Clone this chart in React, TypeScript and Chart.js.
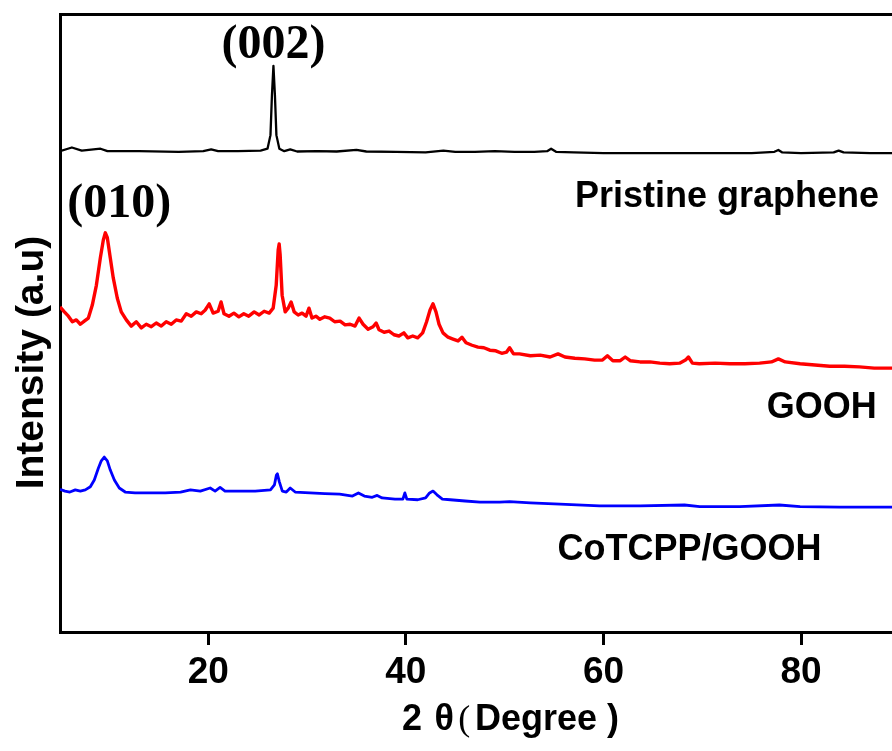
import React, { useEffect, useRef } from "react";
import { Chart, registerables } from "chart.js";

Chart.register(...registerables);

// ---- data (2θ in degrees, intensity in a.u., curves vertically offset) ----
const pristineX = [5.0, 6.2, 7.2, 9.1, 9.8, 13, 17, 19.5, 20.3, 21, 23, 25.3, 26.0, 26.3, 26.45, 26.6, 26.75, 26.9, 27.2, 27.7, 28.3, 29, 31, 33, 35, 36, 39, 42, 43.8, 45, 47, 49, 51, 53, 54.3, 54.7, 55.2, 57, 60, 63, 66, 69, 72, 75, 77.3, 77.7, 78.1, 80, 83.3, 83.8, 84.3, 87, 89.2];
const pristineY = [77.8, 78.4, 77.9, 78.2, 77.8, 77.8, 77.7, 77.8, 78.1, 77.8, 77.8, 77.9, 78.2, 80.4, 86.9, 91.6, 86.9, 80.4, 78.2, 77.8, 78.1, 77.75, 77.8, 77.75, 78.0, 77.75, 77.7, 77.6, 77.9, 77.7, 77.7, 77.8, 77.7, 77.7, 77.8, 78.2, 77.7, 77.6, 77.5, 77.5, 77.5, 77.5, 77.5, 77.5, 77.7, 78.0, 77.6, 77.5, 77.6, 77.9, 77.6, 77.5, 77.5];

const goohX = [5.0, 5.44, 5.85, 6.25, 6.65, 7.06, 7.46, 7.87, 8.27, 8.68, 9.08, 9.38, 9.59, 9.79, 10.09, 10.39, 10.8, 11.2, 11.71, 12.21, 12.72, 13.23, 13.73, 14.24, 14.74, 15.25, 15.75, 16.26, 16.76, 17.27, 17.78, 18.28, 18.79, 19.29, 19.7, 20.1, 20.5, 21.0, 21.3, 21.6, 22.1, 22.6, 23.1, 23.6, 24.1, 24.65, 25.16, 25.66, 26.17, 26.57, 26.88, 27.08, 27.18, 27.28, 27.48, 27.79, 28.09, 28.39, 28.7, 29.1, 29.5, 29.9, 30.2, 30.5, 30.9, 31.3, 31.8, 32.3, 32.8, 33.35, 33.85, 34.36, 34.86, 35.27, 35.67, 36.18, 36.68, 36.99, 37.29, 37.8, 38.3, 38.8, 39.3, 39.8, 40.2, 40.7, 41.2, 41.7, 42.1, 42.45, 42.75, 43.05, 43.36, 43.76, 44.27, 44.77, 45.28, 45.68, 46.09, 46.7, 47.3, 47.9, 48.5, 49.1, 49.7, 50.2, 50.5, 50.9, 51.5, 52.6, 53.6, 54.6, 55.4, 56.1, 57.1, 58.1, 59.1, 59.9, 60.4, 60.95, 61.7, 62.2, 62.7, 63.7, 64.7, 65.7, 66.7, 67.7, 68.3, 68.6, 69.0, 69.7, 71.3, 72.8, 74.3, 75.8, 77.0, 77.7, 78.4, 79.9, 81.4, 82.9, 84.4, 85.9, 87.4, 89.2];
const goohY = [52.6, 51.8, 51.1, 50.2, 50.5, 49.8, 50.3, 50.8, 52.9, 56.1, 60.5, 63.4, 64.6, 63.8, 60.5, 57.3, 54.0, 51.8, 50.5, 49.5, 50.2, 49.2, 49.8, 49.4, 50.0, 49.5, 50.2, 49.8, 50.5, 50.3, 51.5, 51.1, 51.8, 51.5, 52.1, 53.1, 51.6, 51.9, 53.4, 51.5, 51.1, 51.6, 51.0, 51.5, 51.1, 51.8, 51.3, 51.9, 51.6, 52.4, 56.1, 61.8, 62.8, 61.0, 54.5, 51.8, 52.4, 53.4, 51.8, 51.3, 51.6, 51.1, 52.4, 50.8, 51.1, 50.6, 51.0, 50.8, 50.2, 50.3, 49.7, 49.8, 49.5, 50.8, 49.8, 49.0, 49.4, 50.0, 48.9, 48.5, 48.7, 48.1, 47.9, 48.4, 47.6, 47.9, 47.6, 48.4, 50.2, 52.1, 53.1, 51.8, 49.8, 48.4, 47.7, 47.4, 47.1, 47.7, 46.8, 46.4, 46.1, 46.0, 45.6, 45.5, 45.1, 45.3, 46.0, 45.0, 45.0, 44.7, 44.8, 44.5, 45.0, 44.5, 44.3, 44.2, 44.0, 44.0, 44.7, 43.9, 43.9, 44.5, 43.9, 43.7, 43.7, 43.5, 43.4, 43.5, 44.0, 44.5, 43.5, 43.4, 43.5, 43.4, 43.4, 43.5, 43.7, 44.2, 43.7, 43.4, 43.2, 43.0, 43.0, 42.9, 42.7, 42.7];

const cotcppX = [5.0, 5.5, 6.0, 6.55, 7.06, 7.56, 8.07, 8.47, 8.88, 9.18, 9.48, 9.79, 10.09, 10.5, 11.0, 11.6, 12.6, 14.1, 15.65, 17.2, 18.2, 19.2, 20.2, 20.7, 21.2, 21.7, 23.2, 24.75, 26.3, 26.7, 26.9, 27.0, 27.2, 27.5, 27.9, 28.3, 28.8, 30.3, 31.8, 33.3, 34.6, 35.2, 35.8, 36.6, 37.1, 37.6, 38.9, 39.7, 39.9, 40.1, 41.2, 42.0, 42.4, 42.75, 43.15, 43.7, 44.5, 46.0, 47.5, 49.5, 50.5, 52.6, 55.6, 59.6, 63.7, 68.2, 69.75, 73.8, 77.8, 79.9, 83.9, 89.2];
const cotcppY = [23.1, 22.8, 22.65, 23.0, 22.8, 23.0, 23.5, 24.6, 26.5, 27.7, 28.3, 27.7, 26.2, 24.6, 23.3, 22.65, 22.5, 22.5, 22.5, 22.65, 23.0, 22.8, 23.3, 22.8, 23.4, 22.8, 22.8, 22.8, 23.0, 23.8, 25.4, 25.6, 24.3, 22.8, 22.65, 23.3, 22.65, 22.5, 22.4, 22.3, 22.0, 22.5, 22.0, 21.8, 22.1, 21.7, 21.5, 21.5, 22.5, 21.5, 21.4, 21.7, 22.5, 22.8, 22.2, 21.5, 21.4, 21.2, 21.0, 21.0, 21.1, 20.9, 20.7, 20.4, 20.4, 20.55, 20.3, 20.3, 20.55, 20.3, 20.2, 20.2];

const xTicks = [20, 40, 60, 80];
const X_MIN = 5;
const X_MAX = 89.2;
const Y_MIN = 0;
const Y_MAX = 100;

const seriesNames = ["Pristine graphene", "GOOH", "CoTCPP/GOOH"];
const seriesColors = ["#000000", "#ff0000", "#0000ff"];
const seriesLineWidths = [2.3, 3.4, 2.8];
// where each series' name is written (data coordinates)
const seriesLabelX = [72.5, 82.1, 68.7];
const seriesLabelY = [68.8, 34.6, 11.65];

const peakLabels = ["(002)", "(010)"];
const peakLabelX = [26.6, 11.0];
const peakLabelY = [92.9, 67.2];

const SANS = "'Liberation Sans', Arial, sans-serif";
const SERIF = "'Liberation Serif', 'Times New Roman', serif";

const annotationPlugin = {
  id: "annotations",
  beforeDraw(chart: any) {
    const { ctx, width, height } = chart;
    ctx.save();
    ctx.fillStyle = "#ffffff";
    ctx.fillRect(0, 0, width, height);
    ctx.restore();
  },
  afterDraw(chart: any) {
    const { ctx, chartArea } = chart;
    const x = chart.scales.x;
    const y = chart.scales.y;
    ctx.save();
    ctx.fillStyle = "#000";
    ctx.textBaseline = "alphabetic";

    // peak labels
    ctx.textAlign = "center";
    ctx.font = `bold 48px ${SERIF}`;
    peakLabels.forEach((t, i) => {
      ctx.fillText(t, x.getPixelForValue(peakLabelX[i]), y.getPixelForValue(peakLabelY[i]));
    });

    // series names
    ctx.font = `bold 36px ${SANS}`;
    seriesNames.forEach((t, i) => {
      ctx.fillText(t, x.getPixelForValue(seriesLabelX[i]), y.getPixelForValue(seriesLabelY[i]));
    });

    // y axis title
    ctx.save();
    ctx.translate(chartArea.left - 17, y.getPixelForValue(43.6));
    ctx.rotate(-Math.PI / 2);
    ctx.textAlign = "center";
    ctx.font = `bold 39px ${SANS}`;
    ctx.fillText("Intensity (a.u)", 0, 0);
    ctx.restore();

    // x axis title: "2θ (Degree )"
    const by = chartArea.bottom + 98;
    ctx.textAlign = "left";
    ctx.font = `bold 36px ${SANS}`;
    ctx.fillText("2", x.getPixelForValue(39.6), by);
    ctx.fillText("θ", x.getPixelForValue(42.9), by);
    ctx.font = `36px ${SERIF}`;
    ctx.fillText("(", x.getPixelForValue(45.3), by);
    ctx.font = `bold 36px ${SANS}`;
    ctx.fillText("Degree )", x.getPixelForValue(47.0), by);
    ctx.restore();
  },
};

export default function App() {
  const canvasRef = useRef<HTMLCanvasElement | null>(null);

  useEffect(() => {
    const canvas = canvasRef.current;
    if (!canvas) return;
    const seriesX = [pristineX, goohX, cotcppX];
    const seriesY = [pristineY, goohY, cotcppY];
    const chart = new Chart(canvas, {
      type: "line",
      data: {
        datasets: seriesNames.map((name, i) => ({
          label: name,
          data: seriesX[i].map((xv, j) => ({ x: xv, y: seriesY[i][j] })),
          borderColor: seriesColors[i],
          backgroundColor: seriesColors[i],
          borderWidth: seriesLineWidths[i],
          pointRadius: 0,
          tension: 0,
          borderJoinStyle: "round",
          fill: false,
        })),
      },
      options: {
        responsive: false,
        animation: false,
        devicePixelRatio: 1,
        layout: { padding: 0 },
        plugins: {
          legend: { display: false },
          tooltip: { enabled: false },
          title: { display: false },
        },
        scales: {
          x: {
            type: "linear",
            position: "bottom",
            min: X_MIN,
            max: X_MAX,
            afterBuildTicks: (scale: any) => {
              scale.ticks = xTicks.map((v) => ({ value: v }));
            },
            afterFit: (scale: any) => {
              scale.height = 119;
            },
            grid: {
              display: true,
              drawOnChartArea: false,
              drawTicks: true,
              tickLength: 13,
              tickWidth: 3,
              tickColor: "#000",
            },
            border: { display: true, color: "#000", width: 3 },
            ticks: {
              color: "#000",
              font: { family: SANS, size: 37, weight: "bold" },
              padding: 6,
              maxRotation: 0,
            },
          },
          x2: {
            type: "linear",
            position: "top",
            min: X_MIN,
            max: X_MAX,
            afterFit: (scale: any) => {
              scale.height = 14;
            },
            grid: { display: false, drawTicks: false },
            border: { display: true, color: "#000", width: 3 },
            ticks: { display: false },
          },
          y: {
            type: "linear",
            position: "left",
            min: Y_MIN,
            max: Y_MAX,
            afterFit: (scale: any) => {
              scale.width = 60;
            },
            grid: { display: false, drawTicks: false },
            border: { display: true, color: "#000", width: 3 },
            ticks: { display: false },
          },
        },
      },
      plugins: [annotationPlugin],
    } as any);
    return () => chart.destroy();
  }, []);

  return (
    <div style={{ position: "absolute", left: 0, top: 0, width: 892, height: 751 }}>
      <canvas ref={canvasRef} width={892} height={751} style={{ display: "block", width: 892, height: 751 }} />
    </div>
  );
}
